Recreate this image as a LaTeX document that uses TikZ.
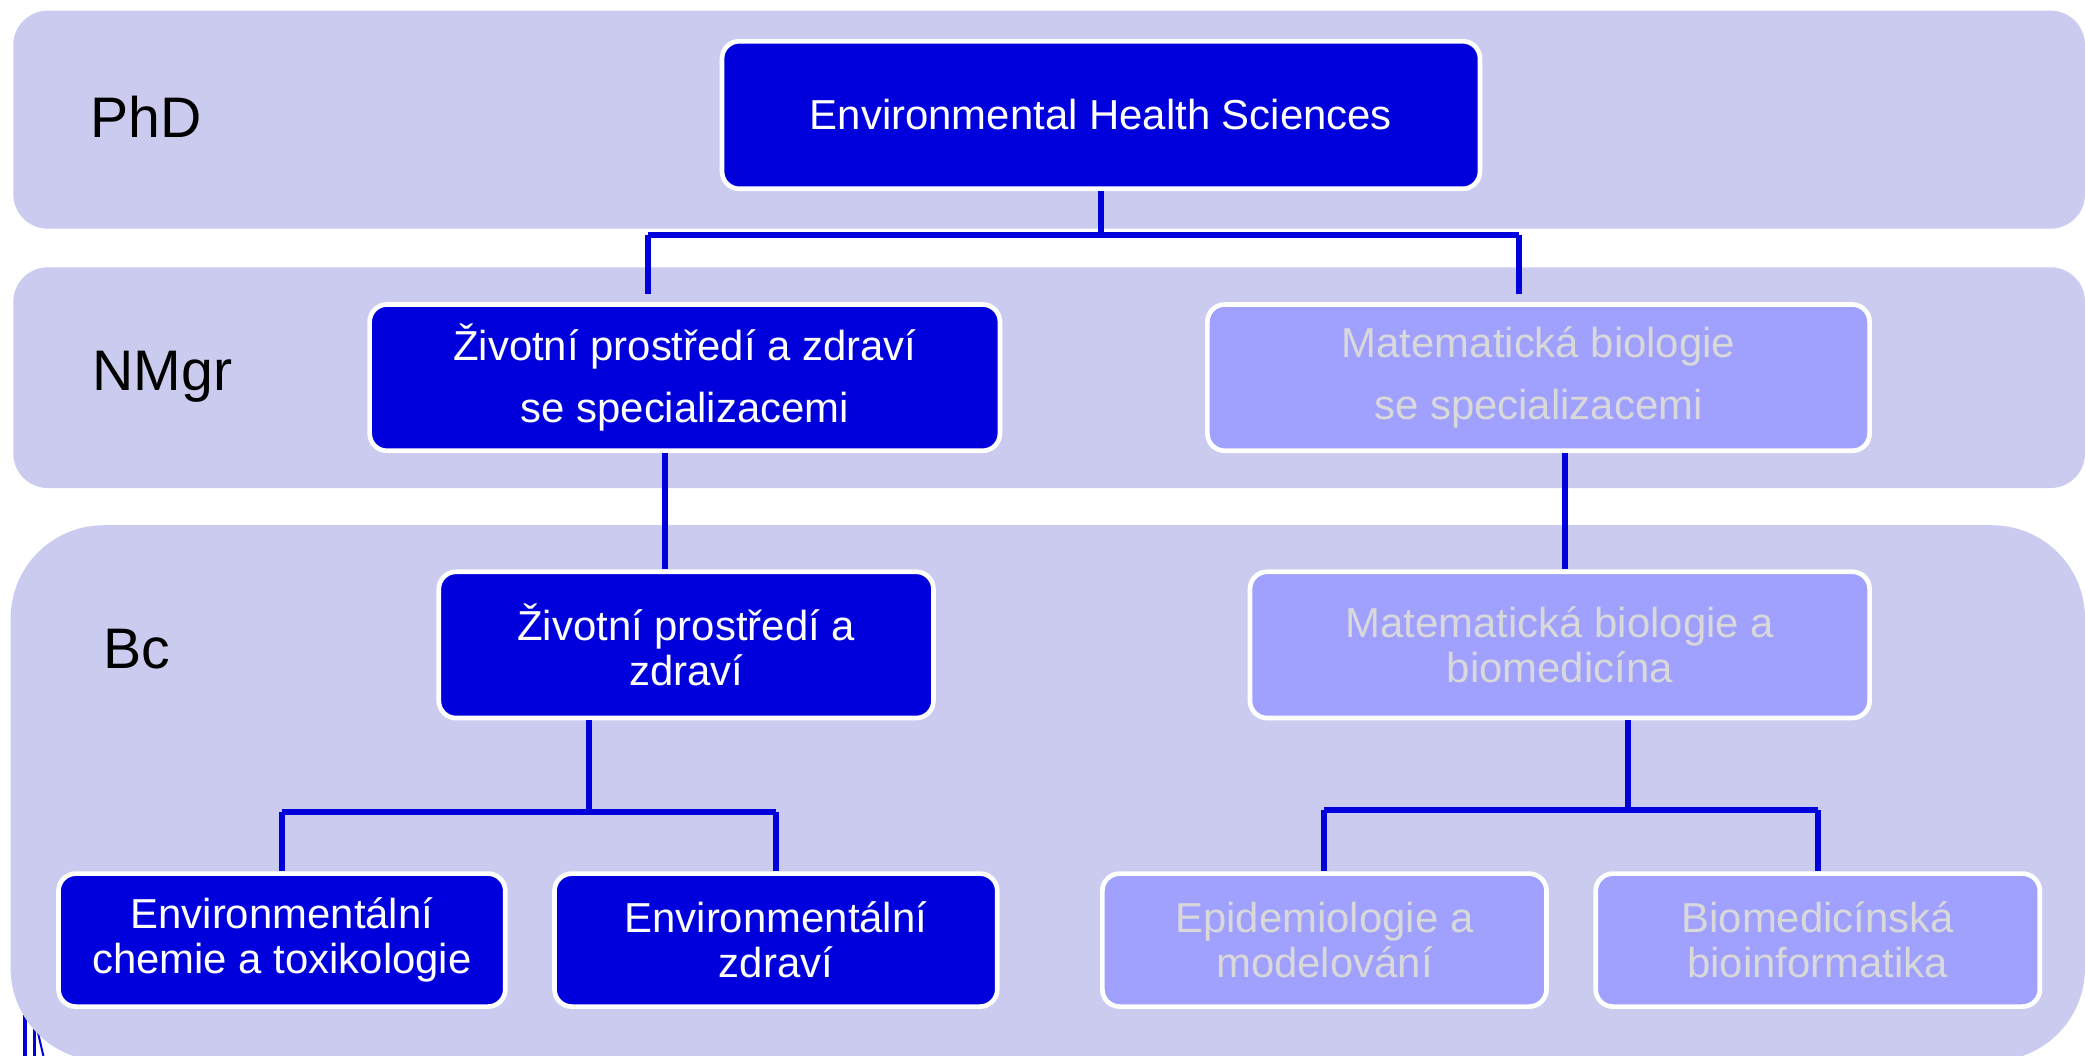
\documentclass[tikz,border=0pt]{standalone}
\usepackage{fontspec}
\setmainfont{Liberation Sans}
\definecolor{tierfill}{HTML}{CBCBF0}
\definecolor{deepblue}{HTML}{0000DC}
\definecolor{paleblue}{HTML}{A0A0FF}
\definecolor{fadedtext}{HTML}{D9D9D9}
\tikzset{
  tier/.style={fill=tierfill, draw=none},
  tierlabel/.style={text=black, font=\fontsize{43}{46}\selectfont, inner sep=0pt},
  prog/.style={draw=white, line width=3.5pt, rounded corners=13pt, align=center,
               inner sep=0pt, font=\fontsize{31.5}{34}\selectfont},
  active/.style={prog, fill=deepblue, text=white},
  planned/.style={prog, fill=paleblue, text=fadedtext},
  wide/.style={font=\fontsize{31.5}{47}\selectfont},
  link/.style={draw=deepblue, line width=4.5pt}
}
\begin{document}
\begin{tikzpicture}[x=1pt, y=-1pt]
  \useasboundingbox (0,0) rectangle (1568,794);
  \clip (0,0) rectangle (1568,794);
  \fill[white] (0,0) rectangle (1568,794);

  % stray strokes peeking out below the Bc tier
  \draw[link, line width=3pt] (18.5,760) -- (18.5,800);
  \draw[deepblue, line width=2pt] (26,768) -- (26,800);
  \draw[deepblue, line width=1.5pt] (27,770) -- (34,800);

  % tiers
  \path[tier, rounded corners=26pt] (10,8) rectangle (1568,172);
  \path[tier, rounded corners=26pt] (10,201) rectangle (1568,367);
  \path[tier, rounded corners=70pt] (8,395) rectangle (1568,798);

  \node[tierlabel] (lphd) at (110,88) {PhD};
  \node[tierlabel] (lnmgr) at (122,283) {NMgr};
  \node[tierlabel] (lbc) at (103,488) {Bc};

  % programmes
  \node[active, minimum width=570, minimum height=111] (ehs) at (828,86.5)
    {Environmental Health Sciences};

  \node[active, wide, minimum width=474, minimum height=110] (nl) at (515,284)
    {Životní prostředí a zdraví\\se specializacemi};
  \node[planned, wide, minimum width=498, minimum height=110] (nr) at (1157,284)
    {Matematická biologie\\se specializacemi};

  \node[active, minimum width=372, minimum height=110] (bl) at (516,485)
    {Životní prostředí a\\zdraví};
  \node[planned, minimum width=466, minimum height=110] (br) at (1173,485)
    {Matematická biologie a\\biomedicína};

  \node[active, minimum width=336, minimum height=100] (b1) at (212,707)
    {Environmentální\\chemie a toxikologie};
  \node[active, minimum width=333, minimum height=100] (b2) at (583.5,707)
    {Environmentální\\zdraví};
  \node[planned, minimum width=334, minimum height=100] (b3) at (996,707)
    {Epidemiologie a\\modelování};
  \node[planned, minimum width=334, minimum height=100] (b4) at (1367,707)
    {Biomedicínská\\bioinformatika};

  % connector columns and rails
  \coordinate (railA) at (0,177);
  \coordinate (colA1) at (487,0);
  \coordinate (colA2) at (1142,0);
  \coordinate (stopA) at (0,221);
  \coordinate (colL) at (500,0);
  \coordinate (colR) at (1177,0);
  \coordinate (colBL) at (443,0);
  \coordinate (railBL) at (0,611);
  \coordinate (colBR) at (1224,0);
  \coordinate (railBR) at (0,609);

  \draw[link] (ehs.south) -- (ehs.south |- railA);
  \draw[link] (colA1 |- railA) -- (colA2 |- railA);
  \draw[link] (colA1 |- railA) -- (colA1 |- stopA);
  \draw[link] (colA2 |- railA) -- (colA2 |- stopA);

  \draw[link] (nl.south -| colL) -- (bl.north -| colL);
  \draw[link] (nr.south -| colR) -- (br.north -| colR);

  \draw[link] (bl.south -| colBL) -- (colBL |- railBL);
  \draw[link] (b1.north |- railBL) -- (b2.north |- railBL);
  \draw[link] (b1.north |- railBL) -- (b1.north);
  \draw[link] (b2.north |- railBL) -- (b2.north);

  \draw[link] (br.south -| colBR) -- (colBR |- railBR);
  \draw[link] (b3.north |- railBR) -- (b4.north |- railBR);
  \draw[link] (b3.north |- railBR) -- (b3.north);
  \draw[link] (b4.north |- railBR) -- (b4.north);
\end{tikzpicture}
\end{document}
